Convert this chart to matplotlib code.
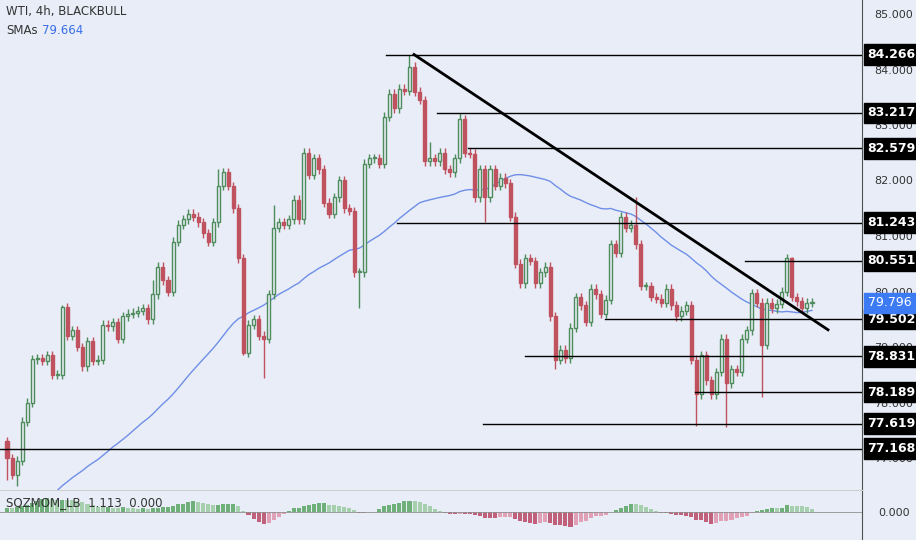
import matplotlib
matplotlib.use("Agg")
import matplotlib.pyplot as plt
import numpy as np
import pandas as pd

first_open = 77.3
closes = [77.0, 76.7, 76.95, 77.65, 78.0, 78.78, 78.8, 78.75, 78.85, 78.5, 78.5,
          79.72, 79.2, 79.3, 79.0, 78.65, 79.1, 78.75, 78.77, 79.4, 79.37,
          79.45, 79.15, 79.55, 79.6, 79.62, 79.65, 79.7, 79.5, 79.95, 80.45,
          80.2, 80.0, 80.9, 81.2, 81.3, 81.4, 81.35, 81.25, 81.05, 80.9,
          81.25, 81.9, 82.15,
          81.9, 81.5, 80.6, 78.9, 79.4, 79.5, 79.2, 79.15, 79.95, 81.15,
          81.25, 81.2, 81.3, 81.65, 81.3, 82.5, 82.1, 82.4, 82.2, 81.6,
          81.4, 81.7, 82.0, 81.5, 81.45, 80.35, 80.35, 82.3, 82.4, 82.4,
          82.3, 83.15, 83.56, 83.3, 83.65, 83.62, 84.05, 83.6, 83.45, 82.35, 82.4,
          82.35, 82.5, 82.2, 82.15, 82.4, 83.1, 82.5, 82.48, 81.7, 82.2,
          81.7, 82.2, 81.9, 82.05, 81.95, 81.35, 80.5, 80.15, 80.6, 80.55,
          80.15, 80.35, 80.45, 79.55, 78.77, 78.95, 78.8, 79.35, 79.9, 79.75,
          79.45, 80.05, 79.95, 79.6, 79.85, 80.85, 80.7, 81.35, 81.15, 81.2,
          80.85, 80.1,
          80.1, 79.9, 79.87, 79.8, 80.05, 79.75, 79.55, 79.65, 79.75, 78.77,
          78.15, 78.85, 78.4, 78.15, 78.55, 79.15, 78.35, 78.6, 78.55, 79.15,
          79.3, 79.97, 79.8, 79.04, 79.8, 79.7, 79.78, 80.0, 80.6, 79.9,
          79.82, 79.7, 79.8, 79.8]
# closes before the visible window (only feed the SMA)
hist_closes = [74.9, 75.1, 75.0, 75.3, 75.2, 75.5, 75.4, 75.6, 75.3, 75.2,
               75.4, 75.7, 75.6, 75.8, 75.5, 75.4, 75.6, 75.9, 75.7, 75.6,
               75.5, 75.8, 76.0, 75.9, 75.7, 75.6, 75.8, 76.1, 75.9, 75.8,
               75.7, 75.9, 76.2, 76.0, 75.8, 75.9, 76.1, 76.3, 76.1, 76.0,
               76.2, 76.4, 76.2, 76.1, 76.3, 76.5, 76.6, 76.4, 77.3]
upper_wick_default = 0.08
lower_wick_default = 0.08
high_overrides = {80: 84.27, 90: 83.22, 125: 81.7, 155: 80.68, 156: 80.62,
                  29: 80.2, 42: 82.2, 84: 82.7, 11: 79.75, 53: 81.55}
low_overrides = {137: 77.58, 143: 77.55, 150: 78.1, 70: 79.7, 47: 78.85,
                 51: 78.45, 0: 76.6, 2: 76.5, 95: 81.25, 109: 78.6}
levels = [84.266, 83.217, 82.579, 81.243, 80.551, 79.502, 78.831, 78.189, 77.619, 77.168]
level_start_px = [386, 437, 468, 397, 745, 605, 525, 695, 483, 0]
trend_px = [414, 828]
trend_price = [84.27, 79.31]
yticks = [77.0, 78.0, 79.0, 80.0, 81.0, 82.0, 83.0, 84.0, 85.0]
last_price = 79.796

n = len(closes)
opens = [first_open] + closes[:-1]
highs = [high_overrides.get(i, max(o, c) + upper_wick_default) for i, (o, c) in enumerate(zip(opens, closes))]
lows = [low_overrides.get(i, min(o, c) - lower_wick_default) for i, (o, c) in enumerate(zip(opens, closes))]
allc = pd.Series(hist_closes + closes)
sma = allc.rolling(50).mean().values[len(hist_closes):]

s = (812 - 7) / (n - 1)
px2i = lambda px: (px - 7) / s
x0, x1 = px2i(0), px2i(862)

bg = '#e8edf7'
fig = plt.figure(figsize=(9.16, 5.4), dpi=100)
fig.patch.set_facecolor(bg)
ax = fig.add_axes([0, 50/540, 862/916, 490/540])
ax2 = fig.add_axes([0, 0, 862/916, 50/540], sharex=ax)
for a in (ax, ax2):
    a.set_facecolor(bg)
    for sp in a.spines.values():
        sp.set_visible(False)
ax.spines['right'].set_visible(True); ax.spines['right'].set_color('#505050')
ax2.spines['right'].set_visible(True); ax2.spines['right'].set_color('#505050')
ax2.spines['top'].set_visible(True); ax2.spines['top'].set_color('#d0d0d0')

green = '#4e8c5c'; red = '#c0525f'
xs = np.arange(n)
for i in range(n):
    o, c = opens[i], closes[i]
    col = green if c >= o else red
    ax.vlines(i, lows[i], highs[i], color=col, lw=1, zorder=3)
    bot, h = min(o, c), max(abs(c - o), 0.015)
    ax.add_patch(plt.Rectangle((i - 0.3, bot), 0.6, h, facecolor=(bg if c >= o else red),
                               edgecolor=col, lw=1, zorder=4))
ax.plot(xs, sma, color='#6f8fe8', lw=1, zorder=2)

for lv, sp in zip(levels, level_start_px):
    ax.plot([px2i(sp), x1], [lv, lv], color='black', lw=1, zorder=5)
ax.plot([px2i(trend_px[0]), px2i(trend_px[1])], trend_price, color='black', lw=2, zorder=6)

ax.set_xlim(x0, x1)
ax.set_ylim(85 - 476/55.5, 85 + 14/55.5)
ax.yaxis.tick_right()
ax.set_yticks(yticks)
ax.set_yticklabels([f"{v:.3f}" for v in yticks], fontsize=8, color='#333333')
ax.tick_params(axis='y', length=0, pad=9)
ax.tick_params(axis='x', bottom=False, labelbottom=False)

for lv in levels:
    ax.annotate(f"{lv:.3f}", xy=(1, lv), xycoords=('axes fraction', 'data'), xytext=(4, 0),
                textcoords='offset points', va='center', ha='left', fontsize=9, fontweight='bold',
                color='white',
                bbox=dict(boxstyle='square,pad=0.3', fc='black', ec='black', lw=1), zorder=10)
ax.annotate(f"{last_price:.3f}", xy=(1, last_price), xycoords=('axes fraction', 'data'), xytext=(4, 0),
            textcoords='offset points', va='center', ha='left', fontsize=9, color='white',
            bbox=dict(boxstyle='square,pad=0.3', fc='#3d7bf5', ec='#3d7bf5', lw=1), zorder=10)

fig.text(6/916, 1 - 12/540, "WTI, 4h, BLACKBULL", fontsize=8.5, color='#333333', va='center')
fig.text(6/916, 1 - 31/540, "SMAs", fontsize=8.5, color='#333333', va='center')
fig.text(42/916, 1 - 31/540, "79.664", fontsize=8.5, color='#3a6ee8', va='center')

# squeeze momentum histogram derived from closes
cs = allc
mom = (cs - cs.rolling(20).mean()).rolling(5).mean().values[len(hist_closes):]
cols = []
for i in range(n):
    prev = mom[i - 1] if i > 0 else mom[i]
    if mom[i] >= 0:
        cols.append('#6fb07a' if mom[i] >= prev else '#a6cfae')
    else:
        cols.append('#c0607a' if mom[i] <= prev else '#e0a0b5')
ax2.bar(xs, mom, width=0.8, color=cols)
ax2.axhline(0, color='#909090', lw=0.6)
lim = np.nanmax(np.abs(mom)) * 1.9
ax2.set_ylim(-lim, lim * 0.8)
ax2.yaxis.tick_right()
ax2.set_yticks([0]); ax2.set_yticklabels(["0.000"], fontsize=8, color='#333333')
ax2.tick_params(axis='y', length=0, pad=12)
ax2.tick_params(axis='x', bottom=False, labelbottom=False)
ax2.text(0.007, 0.75, "SQZMOM_LB  1.113  0.000", transform=ax2.transAxes, fontsize=8.5,
         color='#333333', va='center')
fig.savefig("out.png", dpi=100, facecolor=bg)
